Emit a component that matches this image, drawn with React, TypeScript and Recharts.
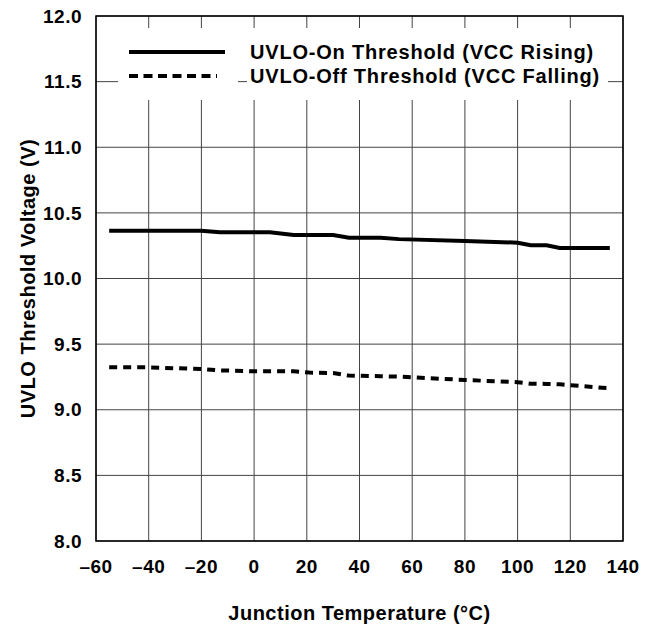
import { LineChart, Line, XAxis, YAxis, CartesianGrid, Legend, ReferenceArea } from "recharts";

// junction temperature (°C) and thresholds (V)
const temps = [-55, -40, -20, -13, 0, 6, 15, 21, 30, 36, 48, 55, 80, 100, 105, 111, 116, 124, 135];
const vccRising = [10.364, 10.364, 10.364, 10.352, 10.352, 10.352, 10.331, 10.331, 10.331, 10.311, 10.31, 10.3, 10.286, 10.273, 10.253, 10.253, 10.232, 10.232, 10.232];
const vccFalling = [9.323, 9.323, 9.31, 9.3, 9.293, 9.293, 9.293, 9.283, 9.28, 9.26, 9.256, 9.252, 9.227, 9.21, 9.199, 9.197, 9.194, 9.181, 9.163];

const xTicks = [-60, -40, -20, 0, 20, 40, 60, 80, 100, 120, 140];
const yTicks = [8, 8.5, 9, 9.5, 10, 10.5, 11, 11.5, 12];

const series = [
  { key: "on", name: "UVLO-On Threshold (VCC Rising)", dash: undefined as string | undefined, legendDash: undefined as string | undefined },
  { key: "off", name: "UVLO-Off Threshold (VCC Falling)", dash: "8 6", legendDash: "9 5.5" },
];

const data = temps.map((t, i) => ({ t, on: vccRising[i], off: vccFalling[i] }));

const font = "'Liberation Sans', Arial, Helvetica, sans-serif";
const tickStyle = { fontSize: 19, fontWeight: 700, fill: "#000", fontFamily: font, letterSpacing: 0.5 };
const titleStyle = { fontSize: 20, fontWeight: 700, fill: "#000", fontFamily: font, letterSpacing: 0.5 };

function fmtX(v: number) {
  return v < 0 ? "\u2013" + Math.abs(v) : String(v);
}

function LegendBox() {
  return (
    <div style={{ display: "flex", fontFamily: font }}>
      <div style={{ width: 120, height: 72, background: "#fff" }}>
        <svg width={120} height={72}>
          {series.map((s, i) => (
            <line key={s.key} x1={11} x2={s.legendDash ? 99 : 107} y1={24 + i * 24} y2={24 + i * 24} stroke="#000" strokeWidth={4} strokeDasharray={s.legendDash} />
          ))}
        </svg>
      </div>
      <div style={{ marginLeft: 9, width: 361, height: 48, padding: "12px 0 12px 3px", boxSizing: "content-box", background: "#fff" }}>
        {series.map((s) => (
          <div key={s.key} style={{ fontSize: 20, fontWeight: 700, lineHeight: "24px", letterSpacing: 0.8, color: "#000", whiteSpace: "nowrap" }}>{s.name}</div>
        ))}
      </div>
    </div>
  );
}

export default function App() {
  return (
    <div style={{ position: "absolute", left: 0, top: 0, width: 650, height: 630, background: "#fff" }}>
      <LineChart width={650} height={630} data={data} margin={{ top: 16, right: 27, left: 10, bottom: 9 }}>
        <CartesianGrid stroke="#444" strokeWidth={1} />
        <XAxis
          dataKey="t"
          type="number"
          domain={[-60, 140]}
          ticks={xTicks}
          tickFormatter={fmtX}
          tick={tickStyle}
          tickLine={false}
          axisLine={false}
          tickSize={8}
          tickMargin={11}
          height={80}
          interval={0}
          label={{ value: "Junction Temperature (°C)", position: "insideBottom", offset: 1, style: titleStyle }}
        />
        <YAxis
          type="number"
          domain={[8, 12]}
          ticks={yTicks}
          tickFormatter={(v: number) => v.toFixed(1)}
          tick={tickStyle}
          tickLine={false}
          axisLine={false}
          tickSize={6}
          tickMargin={8}
          width={86}
          interval={0}
          label={{ value: "UVLO Threshold Voltage (V)", angle: -90, position: "insideLeft", offset: 18, style: { ...titleStyle, textAnchor: "middle" } }}
        />
        <ReferenceArea x1={-60} x2={140} y1={8} y2={12} fill="none" stroke="#000" strokeWidth={1.5} ifOverflow="visible" />
        {series.map((s) => (
          <Line key={s.key} dataKey={s.key} name={s.name} type="linear" stroke="#000" strokeWidth={4} strokeDasharray={s.dash} dot={false} activeDot={false} isAnimationActive={false} />
        ))}
        <Legend layout="vertical" align="center" verticalAlign="middle" content={() => <LegendBox />} wrapperStyle={{ top: 28, left: 118, width: 490, height: 72 }} />
      </LineChart>
    </div>
  );
}
